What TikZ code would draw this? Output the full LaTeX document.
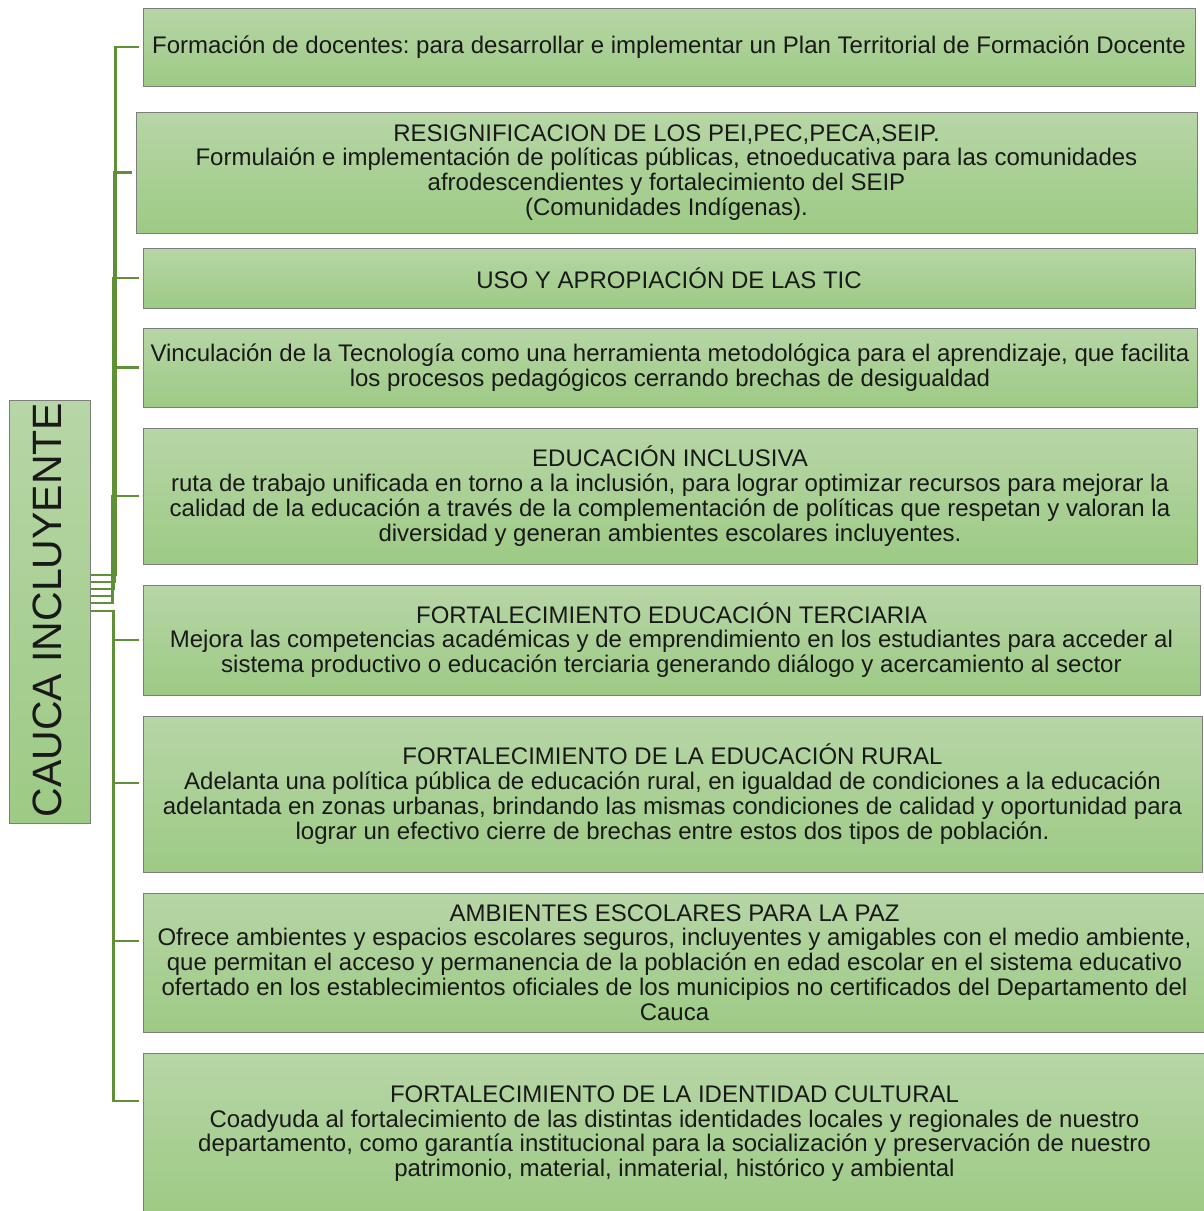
\documentclass[tikz,border=0pt]{standalone}
\usepackage{fontspec}
\setmainfont{Liberation Sans}
\frenchspacing
\definecolor{boxtop}{RGB}{183,214,166}
\definecolor{boxbot}{RGB}{157,202,133}
\definecolor{boxline}{RGB}{125,125,125}
\definecolor{conn}{RGB}{96,144,54}
\begin{document}
\begin{tikzpicture}[x=1pt,y=-1pt,
  box/.style={draw=boxline,line width=1pt,top color=boxtop,bottom color=boxbot,
    inner sep=0pt,align=center,font=\fontsize{24}{24.8}\selectfont,text=black!90},
  link/.style={draw=conn,line width=2.8pt}]
\useasboundingbox (0,0) rectangle (1203,1211);
\node[box,minimum width=81,minimum height=423] (root) at (49.5,611.5) {};
\node[rotate=90,font=\fontsize{41}{44}\selectfont,text=black!90,inner sep=0pt] (roottxt) at (47,610) {CAUCA INCLUYENTE};

\node[box,minimum width=1052,minimum height=78] (b1) at (669,47)
 {Formación de docentes: para desarrollar e implementar un Plan Territorial de Formación Docente};
\node[box,minimum width=1061,minimum height=121] (b2) at (666.5,172.5)
 {RESIGNIFICACION DE LOS PEI,PEC,PECA,SEIP.\\
  Formulaión e implementación de políticas públicas, etnoeducativa para las comunidades\\
  afrodescendientes y fortalecimiento del SEIP\\
  (Comunidades Indígenas).};
\node[box,minimum width=1052,minimum height=60] (b3) at (669,278)
 {USO Y APROPIACIÓN DE LAS TIC};
\node[box,minimum width=1054,minimum height=79] (b4) at (670,367.5)
 {Vinculación de la Tecnología como una herramienta metodológica para el aprendizaje, que facilita\\
  los procesos pedagógicos cerrando brechas de desigualdad};
\node[box,minimum width=1054,minimum height=136] (b5) at (670,496)
 {EDUCACIÓN INCLUSIVA\\
  ruta de trabajo unificada en torno a la inclusión, para lograr optimizar recursos para mejorar la\\
  calidad de la educación a través de la complementación de políticas que respetan y valoran la\\
  diversidad y generan ambientes escolares incluyentes.};
\node[box,minimum width=1057,minimum height=110] (b6) at (671.5,640)
 {FORTALECIMIENTO EDUCACIÓN TERCIARIA\\
  Mejora las competencias académicas y de emprendimiento en los estudiantes para acceder al\\
  sistema productivo o educación terciaria generando diálogo y acercamiento al sector};
\node[box,minimum width=1059,minimum height=156] (b7) at (672.5,794)
 {FORTALECIMIENTO DE LA EDUCACIÓN RURAL\\
  Adelanta una política pública de educación rural, en igualdad de condiciones a la educación\\
  adelantada en zonas urbanas, brindando las mismas condiciones de calidad y oportunidad para\\
  lograr un efectivo cierre de brechas entre estos dos tipos de población.};
\node[box,minimum width=1063,minimum height=139] (b8) at (674.5,962.5)
 {AMBIENTES ESCOLARES PARA LA PAZ\\
  Ofrece ambientes y espacios escolares seguros, incluyentes y amigables con el medio ambiente,\\
  que permitan el acceso y permanencia de la población en edad escolar en el sistema educativo\\
  ofertado en los establecimientos oficiales de los municipios no certificados del Departamento del\\
  Cauca};
\node[box,minimum width=1063,minimum height=161] (b9) at (674.5,1133.5)
 {FORTALECIMIENTO DE LA IDENTIDAD CULTURAL\\
  Coadyuda al fortalecimiento de las distintas identidades locales y regionales de nuestro\\
  departamento, como garantía institucional para la socialización y preservación de nuestro\\
  patrimonio, material, inmaterial, histórico y ambiental};

\draw[link] ([yshift=36.5pt]root.east) -- ++(25,0) |- ([xshift=-4pt]b1.west);
\draw[link] ([yshift=29.5pt]root.east) -- ++(24,0) |- ([xshift=-4pt]b2.west);
\draw[link] ([yshift=22.5pt]root.east) -- ++(23,0) |- ([xshift=-4pt]b3.west);
\draw[link] ([yshift=15.5pt]root.east) -- ++(22.5,0) |- ([xshift=-4pt]b4.west);
\draw[link] ([yshift=8.5pt]root.east) -- ++(22,0) |- ([xshift=-4pt]b5.west);
\draw[link] ([yshift=0.5pt]root.east) -- ++(23,0) |- ([xshift=-4pt]b6.west);
\draw[link] ([yshift=0.5pt]root.east) -- ++(23,0) |- ([xshift=-4pt,yshift=11pt]b7.west);
\draw[link] ([yshift=0.5pt]root.east) -- ++(23,0) |- ([xshift=-4pt,yshift=21.5pt]b8.west);
\draw[link] ([yshift=0.5pt]root.east) -- ++(23,0) |- ([xshift=-4pt,yshift=32.5pt]b9.west);
\end{tikzpicture}
\end{document}
